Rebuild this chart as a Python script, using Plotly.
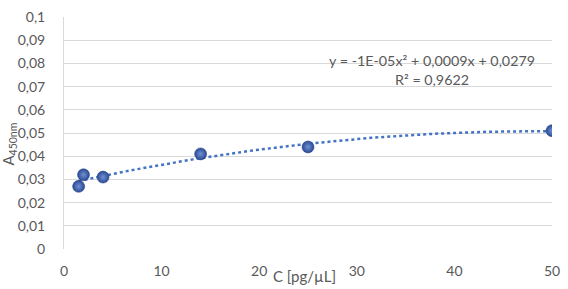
import numpy as np
import plotly.graph_objects as go

conc = [1.5, 2, 4, 14, 25, 50]
absorb = [0.027, 0.032, 0.031, 0.041, 0.044, 0.051]
y_ticks = [0, 0.01, 0.02, 0.03, 0.04, 0.05, 0.06, 0.07, 0.08, 0.09, 0.1]
y_tick_text = ["0", "0,01", "0,02", "0,03", "0,04", "0,05", "0,06", "0,07", "0,08", "0,09", "0,1"]
x_ticks = [0, 10, 20, 30, 40, 50]
equation = "y = -1E-05x² + 0,0009x + 0,0279<br>R² = 0,9622"
x_title = "C [pg/µL]"
y_title = "A<sub>450nm</sub>"

coef = np.polyfit(conc, absorb, 2)
xf = np.linspace(min(conc), max(conc), 200)
yf = np.polyval(coef, xf)

FONT = "Lato, Open Sans, sans-serif"
GRAY = "#595959"
FS = 14

fig = go.Figure()
fig.add_trace(go.Scatter(x=xf, y=yf, mode="lines",
                         line=dict(color="#4472C4", width=2.5, dash="dot"),
                         hoverinfo="skip", showlegend=False))
fig.add_trace(go.Scatter(x=conc, y=absorb, mode="markers",
                         marker=dict(size=12, color="#2A4A96",
                                     gradient=dict(type="radial", color="#7391D2"),
                                     line=dict(width=0.5, color="#1F3A7A")),
                         showlegend=False))

fig.add_annotation(x=37.7, y=0.0772, xref="x", yref="y", text=equation,
                   showarrow=False, align="center",
                   font=dict(family=FONT, size=14.3, color=GRAY))
fig.add_annotation(x=24.6, y=-28 / 241, xref="x", yref="paper", text=x_title,
                   showarrow=False, yanchor="middle",
                   font=dict(family=FONT, size=15, color=GRAY))
fig.add_annotation(x=-55 / 492, y=0.0452, xref="paper", yref="y", text=y_title,
                   showarrow=False, textangle=-90, xanchor="center", yanchor="middle",
                   font=dict(family=FONT, size=15, color=GRAY))

fig.update_layout(
    width=568, height=289,
    margin=dict(l=64, r=12, t=8, b=40),
    paper_bgcolor="white", plot_bgcolor="white",
    font=dict(family=FONT, size=FS, color=GRAY),
    xaxis=dict(range=[0, 50], tickvals=x_ticks, showgrid=False, zeroline=False,
               showline=False, ticks="", ticklabelstandoff=12,
               tickfont=dict(family=FONT, size=FS, color=GRAY)),
    yaxis=dict(range=[0, 0.10002], tickvals=y_ticks, ticktext=y_tick_text,
               showgrid=True, gridcolor="#D9D9D9", gridwidth=1, zeroline=False,
               showline=True, linecolor="#D9D9D9", ticks="", ticklabelstandoff=15,
               ticklabeloverflow="allow",
               tickfont=dict(family=FONT, size=FS, color=GRAY)),
)

fig.write_html("out.html")
